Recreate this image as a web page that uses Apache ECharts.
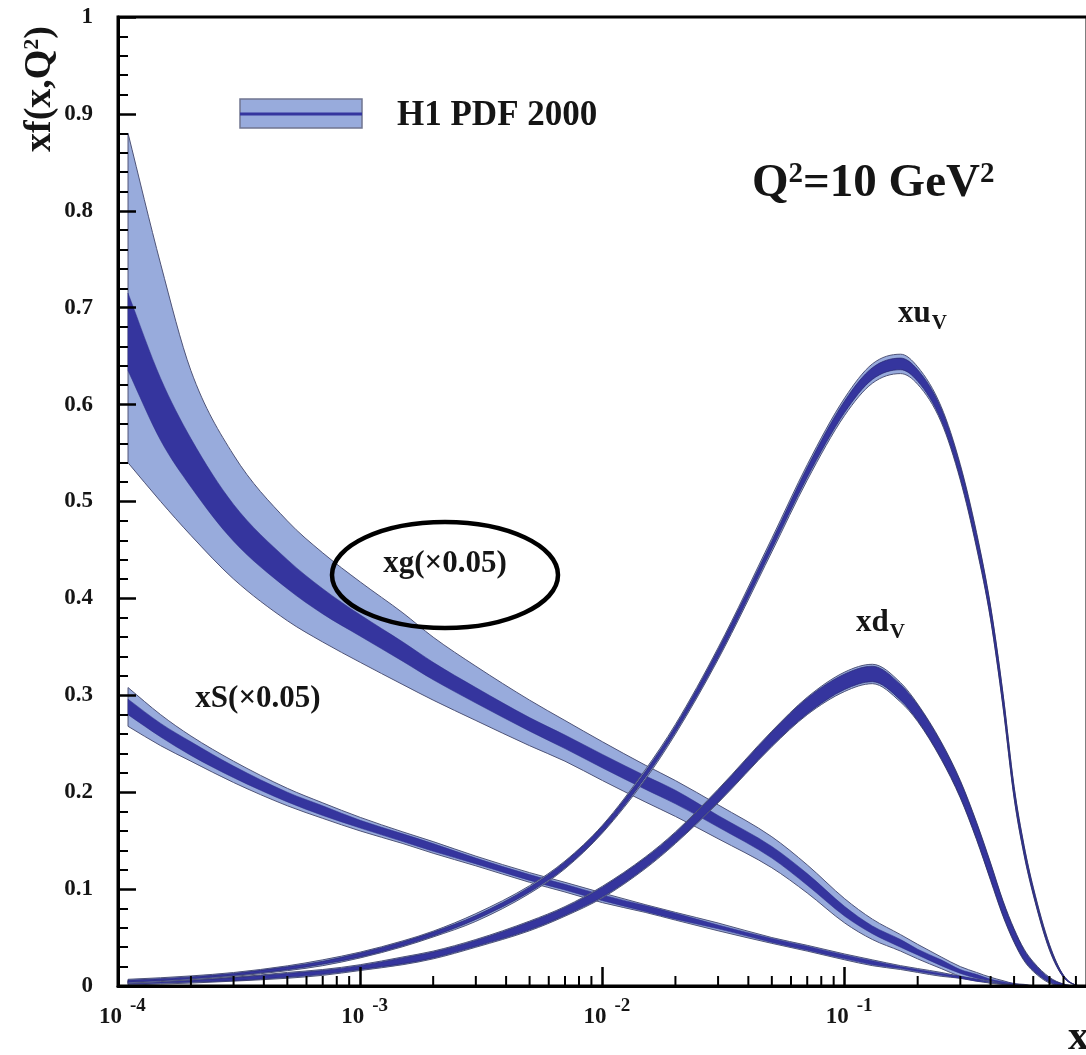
<!DOCTYPE html>
<html><head><meta charset="utf-8">
<script src="https://cdn.jsdelivr.net/npm/echarts@6/dist/echarts.min.js"></script>
<style>html,body{margin:0;padding:0;background:#fff}#c{width:1086px;height:1055px}</style>
</head><body><div id="c"></div>
<script>
// x sample points (shared by all curves)
const xs = [1.1e-4,1.5e-4,2e-4,3e-4,5e-4,7e-4,1e-3,1.5e-3,2e-3,3e-3,5e-3,7e-3,1e-2,1.5e-2,2e-2,3e-2,5e-2,7e-2,0.1,0.13,0.17,0.2,0.25,0.3,0.35,0.4,0.45,0.5,0.55,0.6,0.7,0.8,0.9,0.97];

// xg (x0.05): central value, experimental half-width, total up / down
const xgMid = [0.675,0.595,0.540,0.478,0.425,0.397,0.372,0.345,0.325,0.300,0.270,0.252,0.232,0.210,0.195,0.170,0.138,0.110,0.077,0.058,0.044,0.035,0.024,0.015,0.010,0.006,0.0035,0.0015,0.0007,0.0002,0,0,0,0];
const xgIn  = [0.040,0.032,0.025,0.019,0.015,0.013,0.011,0.010,0.009,0.008,0.007,0.007,0.007,0.007,0.007,0.006,0.006,0.006,0.005,0.004,0.004,0.003,0.003,0.002,0.002,0.001,0.001,0.001,0,0,0,0,0,0];
const xgUp  = [0.205,0.150,0.095,0.070,0.055,0.050,0.045,0.040,0.035,0.030,0.025,0.022,0.020,0.018,0.017,0.017,0.016,0.015,0.013,0.011,0.009,0.008,0.006,0.005,0.004,0.003,0.002,0.001,0.001,0,0,0,0,0];
const xgDn  = [0.135,0.095,0.075,0.058,0.048,0.042,0.038,0.034,0.030,0.026,0.022,0.020,0.020,0.020,0.020,0.018,0.016,0.014,0.012,0.010,0.008,0.007,0.006,0.005,0.004,0.003,0.002,0.001,0.001,0,0,0,0,0];

// xS (x0.05)
const xSMid = [0.288,0.264,0.245,0.221,0.195,0.181,0.167,0.153,0.143,0.129,0.112,0.102,0.091,0.080,0.072,0.061,0.047,0.039,0.030,0.024,0.019,0.016,0.012,0.009,0.006,0.004,0.0025,0.0015,0.0008,0.0003,0,0,0,0];
const xSIn  = [0.008,0.007,0.007,0.006,0.005,0.005,0.004,0.004,0.004,0.003,0.003,0.003,0.003,0.003,0.003,0.002,0.002,0.002,0.002,0.002,0.001,0.001,0.001,0.001,0.001,0,0,0,0,0,0,0,0,0];
const xSOut = [0.020,0.016,0.013,0.011,0.009,0.008,0.007,0.006,0.006,0.005,0.005,0.005,0.005,0.004,0.004,0.004,0.003,0.003,0.003,0.003,0.002,0.002,0.002,0.001,0.001,0.001,0,0,0,0,0,0,0,0];

// xu_V
const xuMid = [0.0049,0.0065,0.0084,0.0119,0.0183,0.024,0.032,0.0436,0.0536,0.0707,0.0995,0.125,0.162,0.218,0.265,0.343,0.455,0.530,0.598,0.632,0.642,0.630,0.590,0.530,0.460,0.385,0.295,0.200,0.140,0.098,0.040,0.010,0.001,0];
const xuIn  = [0.001,0.001,0.001,0.001,0.0015,0.0015,0.002,0.002,0.002,0.002,0.0025,0.003,0.003,0.003,0.003,0.004,0.004,0.005,0.006,0.006,0.006,0.006,0.006,0.006,0.006,0.006,0.006,0.005,0.004,0.003,0.002,0.001,0,0];
const xuOut = [0.002,0.002,0.002,0.002,0.0025,0.003,0.003,0.003,0.003,0.004,0.004,0.004,0.004,0.005,0.005,0.006,0.007,0.008,0.009,0.010,0.010,0.009,0.008,0.008,0.008,0.007,0.007,0.006,0.005,0.004,0.003,0.001,0,0];

// xd_V
const xdMid = [0.003,0.004,0.005,0.007,0.011,0.014,0.019,0.026,0.032,0.044,0.062,0.077,0.097,0.127,0.153,0.196,0.255,0.289,0.314,0.322,0.303,0.282,0.243,0.203,0.160,0.118,0.080,0.052,0.032,0.020,0.006,0.001,0,0];
const xdIn  = [0.001,0.001,0.001,0.0015,0.002,0.002,0.002,0.003,0.003,0.003,0.004,0.004,0.005,0.005,0.005,0.006,0.007,0.008,0.008,0.008,0.008,0.008,0.008,0.008,0.008,0.008,0.007,0.006,0.005,0.004,0.002,0.001,0,0];
const xdOut = [0.002,0.002,0.002,0.002,0.003,0.003,0.003,0.004,0.004,0.004,0.005,0.005,0.006,0.006,0.006,0.007,0.008,0.009,0.010,0.010,0.010,0.009,0.009,0.009,0.009,0.009,0.008,0.007,0.006,0.005,0.003,0.001,0,0];

// axis tick values / labels
const xTickExponents = [-4,-3,-2,-1];
const xMinorTicks = [2e-4,3e-4,4e-4,5e-4,6e-4,7e-4,8e-4,9e-4,2e-3,3e-3,4e-3,5e-3,6e-3,7e-3,8e-3,9e-3,2e-2,3e-2,4e-2,5e-2,6e-2,7e-2,8e-2,9e-2,0.2,0.3,0.4,0.5,0.6,0.7,0.8,0.9];

const LIGHT = '#98abdc', DARK = '#35359e', EDGE = '#4f5478', SERIF = '"Liberation Serif","DejaVu Serif",serif';

// monotone cubic path through pixel points (rendering only)
function segs(p) {
  const n = p.length, d = [], m = [];
  for (let i = 0; i < n - 1; i++) d.push((p[i+1][1]-p[i][1]) / ((p[i+1][0]-p[i][0]) || 1e-9));
  m[0] = d[0]; m[n-1] = d[n-2];
  for (let i = 1; i < n - 1; i++) m[i] = (d[i-1]*d[i] <= 0) ? 0 : (d[i-1]+d[i]) / 2;
  for (let i = 0; i < n - 1; i++) {
    if (d[i] === 0) { m[i] = 0; m[i+1] = 0; continue; }
    const a = m[i]/d[i], b = m[i+1]/d[i], s = a*a + b*b;
    if (s > 9) { const t = 3/Math.sqrt(s); m[i] = t*a*d[i]; m[i+1] = t*b*d[i]; }
  }
  const out = [];
  for (let i = 0; i < n - 1; i++) {
    const h = p[i+1][0] - p[i][0];
    out.push([[p[i][0]+h/3, p[i][1]+m[i]*h/3], [p[i+1][0]-h/3, p[i+1][1]-m[i+1]*h/3]]);
  }
  return out;
}
function bandPath(up, lo) {
  const su = segs(up), sl = segs(lo);
  const f = v => v.toFixed(2);
  let s = 'M' + f(up[0][0]) + ' ' + f(up[0][1]);
  for (let i = 0; i < su.length; i++) s += ' C' + f(su[i][0][0]) + ' ' + f(su[i][0][1]) + ' ' + f(su[i][1][0]) + ' ' + f(su[i][1][1]) + ' ' + f(up[i+1][0]) + ' ' + f(up[i+1][1]);
  const n = lo.length;
  s += ' L' + f(lo[n-1][0]) + ' ' + f(lo[n-1][1]);
  for (let i = sl.length - 1; i >= 0; i--) s += ' C' + f(sl[i][1][0]) + ' ' + f(sl[i][1][1]) + ' ' + f(sl[i][0][0]) + ' ' + f(sl[i][0][1]) + ' ' + f(lo[i][0]) + ' ' + f(lo[i][1]);
  return s + ' Z';
}

function band(id, mid, dn, up, fill, stroke, lw, z) {
  const lo = xs.map((x,i)=>Math.max(0, mid[i]-dn[i]));
  const hi = xs.map((x,i)=>mid[i]+up[i]);
  return {type:'custom', name:id, coordinateSystem:'cartesian2d', clip:true, silent:true, z:z, animation:false,
    data: xs.map((x,i)=>[x, lo[i], hi[i]]),
    encode:{x:0, y:[1,2]},
    renderItem:function(params, api){
      if (params.dataIndex !== 0) return null;
      const upPts = xs.map((x,i)=>api.coord([x, hi[i]]));
      const loPts = xs.map((x,i)=>api.coord([x, lo[i]]));
      return {type:'path', shape:{pathData: bandPath(upPts, loPts)}, style:{fill:fill, stroke:stroke, lineWidth:lw}};
    }};
}

const series = [
  band('xgO', xgMid, xgDn, xgUp, LIGHT, EDGE, 1, 2),
  band('xgI', xgMid, xgIn, xgIn, DARK, '#2c2c88', 0.5, 3),
  band('xSO', xSMid, xSOut, xSOut, LIGHT, EDGE, 1, 4),
  band('xSI', xSMid, xSIn, xSIn, DARK, '#2c2c88', 0.5, 5),
  band('xdO', xdMid, xdOut, xdOut, LIGHT, EDGE, 1, 6),
  band('xdI', xdMid, xdIn, xdIn, DARK, '#26266e', 0.7, 7),
  band('xuO', xuMid, xuOut, xuOut, LIGHT, EDGE, 1, 8),
  band('xuI', xuMid, xuIn, xuIn, DARK, '#26266e', 0.7, 9),
  {type:'custom', name:'minorTicks', coordinateSystem:'cartesian2d', clip:false, silent:true, z:55, animation:false,
    data: xMinorTicks.map(v=>[v, 0]),
    renderItem:function(params, api){
      const p = api.coord([api.value(0), 0]);
      return {type:'line', shape:{x1:p[0], y1:p[1], x2:p[0], y2:p[1]-10}, style:{stroke:'#000', lineWidth:2}};
    }}
];

const labelFont = {fontFamily:SERIF, fontWeight:'bold', color:'#151515'};

const chart = echarts.init(document.getElementById('c'), null, {renderer:'canvas', devicePixelRatio:1});
chart.setOption({
  animation:false,
  backgroundColor:'#fff',
  grid:{left:118, width:969, top:17, bottom:69, show:true, borderColor:'#000', borderWidth:3, z:60,
        containLabel:false, outerBoundsMode:'none'},
  xAxis:[
    {type:'log', logBase:10, min:1e-4, max:1, z:50, position:'bottom',
      axisLine:{lineStyle:{color:'#000', width:3}},
      axisTick:{inside:true, length:19, lineStyle:{color:'#000', width:2.5}},
      minorTick:{show:false}, splitLine:{show:false}, minorSplitLine:{show:false},
      axisLabel:Object.assign({margin:20, fontSize:23, lineHeight:23, align:'center', padding:[0,15,0,0],
        formatter:function(v){ return xTickExponents.indexOf(Math.round(Math.log10(v))) >= 0 ? '10' : ''; }}, labelFont)
    },
    {type:'log', logBase:10, min:1e-4, max:1, z:50, position:'bottom',
      axisLine:{show:false}, axisTick:{show:false}, minorTick:{show:false}, splitLine:{show:false},
      axisLabel:Object.assign({margin:11, fontSize:19, lineHeight:19, align:'left', padding:[0,0,0,12],
        formatter:function(v){ const e = Math.round(Math.log10(v)); return xTickExponents.indexOf(e) >= 0 ? String(e) : ''; }}, labelFont)
    }
  ],
  yAxis:{type:'value', min:0, max:1, interval:0.1, z:50,
    axisLine:{show:true, lineStyle:{color:'#000', width:3}},
    axisTick:{show:true, inside:true, length:18, lineStyle:{color:'#000', width:2.5}},
    minorTick:{show:true, splitNumber:5, length:10, lineStyle:{color:'#000', width:2}},
    splitLine:{show:false},
    axisLabel:Object.assign({margin:25, fontSize:23,
      formatter:function(v){ return v===0 ? '0' : (Math.abs(v-1)<1e-9 ? '1' : v.toFixed(1)); }}, labelFont)
  },
  series: series,
  graphic:[
    {type:'rect', shape:{x:240,y:99,width:122,height:29}, style:{fill:LIGHT, stroke:'#707590', lineWidth:1.5}, z:100},
    {type:'line', shape:{x1:240,y1:114,x2:362,y2:114}, style:{stroke:DARK, lineWidth:3}, z:101},
    {type:'text', x:397, y:116, z:100, style:{text:'H1 PDF 2000', font:'bold 35px '+SERIF, fill:'#151515', verticalAlign:'middle'}},
    {type:'text', x:752, y:184, z:100, style:{text:'{m|Q}{s|2}{m|=10 GeV}{s|2}', verticalAlign:'middle', fill:'#151515',
      rich:{m:{font:'bold 47px '+SERIF, lineHeight:47, verticalAlign:'bottom'}, s:{font:'bold 29px '+SERIF, lineHeight:29, verticalAlign:'top', padding:[0,0,20,0]}}}},
    {type:'text', x:40, y:152, rotation:Math.PI/2, z:100, style:{text:'{m|xf(x,Q}{s|2}{m|)}', align:'left', verticalAlign:'middle', fill:'#151515',
      rich:{m:{font:'bold 38px '+SERIF, lineHeight:38, verticalAlign:'bottom'}, s:{font:'bold 22px '+SERIF, lineHeight:22, verticalAlign:'top', padding:[0,0,18,0]}}}},
    {type:'text', x:1068, y:1038, z:100, style:{text:'x', font:'bold 42px '+SERIF, fill:'#151515', verticalAlign:'middle'}},
    {type:'text', x:445, y:564, z:100, style:{text:'xg(\u00d70.05)', font:'bold 31px '+SERIF, fill:'#151515', align:'center', verticalAlign:'middle'}},
    {type:'ellipse', shape:{cx:445, cy:575, rx:113, ry:53}, z:100, style:{fill:'none', stroke:'#000', lineWidth:4.5}},
    {type:'text', x:258, y:699, z:100, style:{text:'xS(\u00d70.05)', font:'bold 31px '+SERIF, fill:'#151515', align:'center', verticalAlign:'middle'}},
    {type:'text', x:898, y:314, z:100, style:{text:'{m|xu}{s|V}', verticalAlign:'middle', fill:'#151515',
      rich:{m:{font:'bold 31px '+SERIF, lineHeight:31, verticalAlign:'top'}, s:{font:'bold 21px '+SERIF, lineHeight:21, verticalAlign:'top', padding:[15,0,0,1]}}}},
    {type:'text', x:856, y:623, z:100, style:{text:'{m|xd}{s|V}', verticalAlign:'middle', fill:'#151515',
      rich:{m:{font:'bold 31px '+SERIF, lineHeight:31, verticalAlign:'top'}, s:{font:'bold 21px '+SERIF, lineHeight:21, verticalAlign:'top', padding:[15,0,0,1]}}}}
  ]
});
</script>
</body></html>
